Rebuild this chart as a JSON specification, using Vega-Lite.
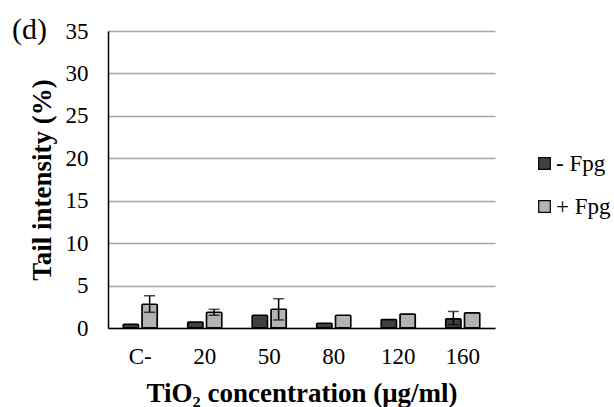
{
  "$schema": "https://vega.github.io/schema/vega-lite/v6.json",
  "autosize": "none",
  "width": 387,
  "height": 297,
  "padding": {"left": 108, "top": 31, "right": 119, "bottom": 79},
  "background": "white",
  "config": {
    "font": "Liberation Serif",
    "view": {"stroke": null},
    "axis": {"labelFont": "Liberation Serif", "titleFont": "Liberation Serif"},
    "legend": {"labelFont": "Liberation Serif"},
    "style": {"guide-label": {"font": "Liberation Serif"}, "guide-title": {"font": "Liberation Serif"}}
  },
  "title": {"text": "(d)", "anchor": "start", "frame": "group", "dx": -96, "dy": 53, "baseline": "alphabetic", "fontSize": 30, "fontWeight": "normal", "font": "Liberation Serif", "color": "black"},
  "data": {"values": [
    {"conc": "C-", "fpg": "- Fpg", "value": 0.45, "lo": null, "hi": null},
    {"conc": "C-", "fpg": "+ Fpg", "value": 2.8, "lo": 1.85, "hi": 3.8},
    {"conc": "20", "fpg": "- Fpg", "value": 0.7, "lo": null, "hi": null},
    {"conc": "20", "fpg": "+ Fpg", "value": 1.85, "lo": 1.5, "hi": 2.2},
    {"conc": "50", "fpg": "- Fpg", "value": 1.5, "lo": null, "hi": null},
    {"conc": "50", "fpg": "+ Fpg", "value": 2.2, "lo": 0.95, "hi": 3.45},
    {"conc": "80", "fpg": "- Fpg", "value": 0.55, "lo": null, "hi": null},
    {"conc": "80", "fpg": "+ Fpg", "value": 1.5, "lo": null, "hi": null},
    {"conc": "120", "fpg": "- Fpg", "value": 1.0, "lo": null, "hi": null},
    {"conc": "120", "fpg": "+ Fpg", "value": 1.65, "lo": null, "hi": null},
    {"conc": "160", "fpg": "- Fpg", "value": 1.1, "lo": 0.4, "hi": 1.95},
    {"conc": "160", "fpg": "+ Fpg", "value": 1.8, "lo": null, "hi": null}
  ]},
  "encoding": {
    "x": {
      "field": "conc", "type": "nominal", "sort": null,
      "scale": {"paddingInner": 0.47, "paddingOuter": 0.235},
      "axis": {
        "title": "TiO₂ concentration (μg/ml)",
        "titleFont": "Liberation Serif", "titleFontSize": 27, "titleFontWeight": "bold", "titleColor": "black", "titlePadding": 12,
        "labelFont": "Liberation Serif", "labelFontSize": 23, "labelColor": "black", "labelAngle": 0, "labelPadding": 17,
        "ticks": false, "domainColor": "black", "domainWidth": 1.5, "grid": false
      }
    },
    "xOffset": {"field": "fpg", "type": "nominal", "sort": ["- Fpg", "+ Fpg"], "scale": {"paddingInner": 0.18, "paddingOuter": 0}}
  },
  "layer": [
    {
      "mark": {"type": "bar", "stroke": "black", "strokeWidth": 1.5, "cornerRadius": 1},
      "encoding": {
        "y": {
          "field": "value", "type": "quantitative",
          "scale": {"domain": [0, 35]},
          "axis": {
            "title": "Tail intensity (%)", "values": [0, 5, 10, 15, 20, 25, 30, 35],
            "titleFont": "Liberation Serif", "titleFontSize": 27, "titleFontWeight": "bold", "titleColor": "black", "titlePadding": 9,
            "labelFont": "Liberation Serif", "labelFontSize": 23, "labelColor": "black", "labelPadding": 20,
            "ticks": false, "domainColor": "black", "domainWidth": 1.5,
            "grid": true, "gridColor": "#a6a6a6", "gridWidth": 1.5
          }
        },
        "fill": {
          "field": "fpg", "type": "nominal", "sort": ["- Fpg", "+ Fpg"],
          "scale": {"domain": ["- Fpg", "+ Fpg"], "range": ["#404040", "#b3b3b3"]},
          "legend": {
            "title": null, "orient": "none", "legendX": 425, "legendY": 121,
            "symbolType": "square", "symbolSize": 135, "symbolStrokeColor": "black", "symbolStrokeWidth": 1.2,
            "labelFont": "Liberation Serif", "labelFontSize": 23, "labelColor": "black",
            "rowPadding": 19, "labelOffset": 0
          }
        }
      }
    },
    {
      "transform": [{"filter": "datum.lo != null"}],
      "mark": {"type": "rule", "color": "black", "strokeWidth": 1.5},
      "encoding": {
        "y": {"field": "lo", "type": "quantitative"},
        "y2": {"field": "hi"}
      }
    },
    {
      "transform": [{"filter": "datum.lo != null"}],
      "mark": {"type": "tick", "color": "black", "thickness": 1.5, "size": 11},
      "encoding": {"y": {"field": "lo", "type": "quantitative"}}
    },
    {
      "transform": [{"filter": "datum.lo != null"}],
      "mark": {"type": "tick", "color": "black", "thickness": 1.5, "size": 11},
      "encoding": {"y": {"field": "hi", "type": "quantitative"}}
    }
  ]
}
